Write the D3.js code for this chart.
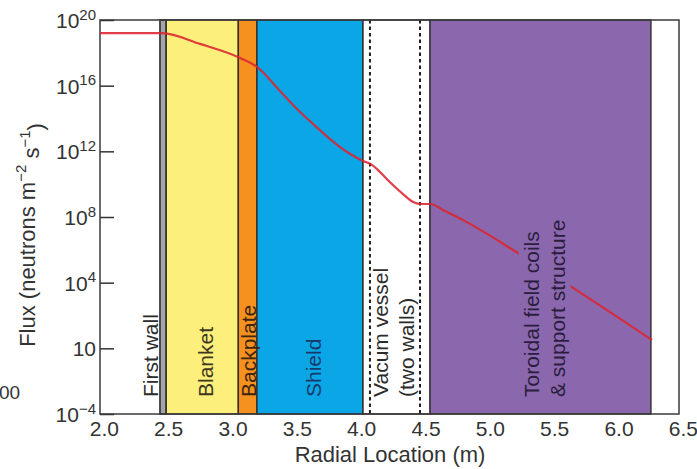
<!DOCTYPE html>
<html>
<head>
<meta charset="utf-8">
<script src="https://cdn.jsdelivr.net/npm/d3@7"></script>
<style>
  body { margin: 0; background: #fff; }
  svg { display: block; font-family: "Liberation Sans", Arial, Helvetica, sans-serif; }
</style>
</head>
<body>
<div class="canvas-container"></div>
<script>

// radial location (m) and neutron flux
var radius = [1.97, 2.452, 2.747, 3.058, 3.19, 3.369, 3.501, 3.625, 3.758, 3.89,
              4.014, 4.084, 4.131, 4.224, 4.325, 4.403, 4.473, 4.535, 4.651, 4.846,
              5.18, 5.646, 6.26];
var flux = [1.6e19, 1.6e19, 3.5e18, 4.9e17, 1.4e17, 4.8e15, 3.8e14, 4.7e13, 5.6e12, 9.1e11,
            2.6e11, 1.5e11, 7.2e10, 1.3e10, 2.5e9, 8.3e8, 6.2e8, 6.2e8, 2.3e8, 3.8e7,
            9.8e5, 4.8e3, 3.2];

// reactor build layers (m)
var layers = [
    {name: "blanket",   x0: 2.483, x1: 3.045},
    {name: "backplate", x0: 3.045, x1: 3.19},
    {name: "shield",    x0: 3.19,  x1: 4.014},
    {name: "vessel",    x0: 4.014, x1: 4.535},
    {name: "coils",     x0: 4.535, x1: 6.252}
];
var firstWall = [2.436, 2.483];
var vesselWalls = [4.068, 4.457];

var xTicks = [2.0, 2.5, 3.0, 3.5, 4.0, 4.5, 5.0, 5.5, 6.0, 6.5];
var yTicks = [1e20, 1e16, 1e12, 1e8, 1e4, 1, 1e-4];
var yTickSup = ["20", "16", "12", "8", "4", "", "\u22124"];

// rotated labels: x in metres, one or two lines
var labels = [
    {key: "wall",      x: [2.359], lines: ["First wall"]},
    {key: "blanket",   x: [2.786], lines: ["Blanket"]},
    {key: "backplate", x: [3.12],  lines: ["Backplate"]},
    {key: "shield",    x: [3.625], lines: ["Shield"]},
    {key: "vessel",    x: [4.146, 4.348], lines: ["Vacum vessel", "(two walls)"]},
    {key: "coils",     x: [5.327, 5.522], lines: ["Toroidal field coils", "& support structure"]}
];

var fills = {
    blanket: "#fcef7c",
    backplate: "#f6901e",
    shield: "#0aa6e6",
    vessel: "#ffffff",
    coils: "#8b67ad"
};
var labelColors = {
    wall: "#2b2b2b", blanket: "#3c3820", backplate: "#3a2612",
    shield: "#173a6c", vessel: "#2b2b2b", coils: "#2a1d3d"
};

function drawChart () {

    var width = 697, height = 469;
    var pLeft = 100, pRight = 679, pTop = 20, pBottom = 414;

    var svg = d3.select("div.canvas-container")
        .append("svg")
        .attr("width", width)
        .attr("height", height);

    var x = d3.scaleLinear().domain([1.97, 6.47]).range([pLeft, pRight]);
    var y = d3.scaleLog().domain([1e-4, 1e20]).range([pBottom, pTop]);

    svg.append("clipPath").attr("id", "plot")
        .append("rect")
        .attr("x", pLeft).attr("y", pTop)
        .attr("width", pRight - pLeft).attr("height", pBottom - pTop);

    // layers
    svg.append("g")
        .selectAll("rect")
        .data(layers)
        .enter()
        .append("rect")
        .attr("x", function (d) { return x(d.x0); })
        .attr("y", pTop)
        .attr("width", function (d) { return x(d.x1) - x(d.x0); })
        .attr("height", pBottom - pTop)
        .attr("fill", function (d) { return fills[d.name]; })
        .attr("stroke", "#2e2e2e")
        .attr("stroke-width", 1.4);

    svg.append("rect")
        .attr("x", x(firstWall[0]))
        .attr("y", pTop)
        .attr("width", x(firstWall[1]) - x(firstWall[0]))
        .attr("height", pBottom - pTop)
        .attr("fill", "#a3a3a8")
        .attr("stroke", "#2e2e2e")
        .attr("stroke-width", 1.6);

    svg.append("g")
        .selectAll("line")
        .data(vesselWalls)
        .enter()
        .append("line")
        .attr("x1", function (d) { return x(d); })
        .attr("x2", function (d) { return x(d); })
        .attr("y1", pTop)
        .attr("y2", pBottom)
        .attr("stroke", "#1e1e1e")
        .attr("stroke-width", 2)
        .attr("stroke-dasharray", "3.5,3");

    // frame
    svg.append("rect")
        .attr("x", pLeft).attr("y", pTop)
        .attr("width", pRight - pLeft).attr("height", pBottom - pTop)
        .attr("fill", "none")
        .attr("stroke", "#3a3a3a")
        .attr("stroke-width", 1.5);

    // flux curve
    var line = d3.line()
        .x(function (d, i) { return x(radius[i]); })
        .y(function (d) { return y(d); })
        .curve(d3.curveMonotoneX);

    svg.append("path")
        .datum(flux)
        .attr("clip-path", "url(#plot)")
        .attr("d", line)
        .attr("fill", "none")
        .attr("stroke", "#dc2430")
        .attr("stroke-opacity", 0.88)
        .attr("stroke-width", 2.2);

    // y axis, ticks pointing in
    var yAxis = svg.append("g")
        .attr("transform", "translate(" + pLeft + ",0)")
        .call(d3.axisLeft(y).tickValues(yTicks).tickSize(-14).tickPadding(4).tickFormat(""));
    yAxis.select(".domain").remove();
    yAxis.selectAll(".tick line").attr("stroke", "#333").attr("stroke-width", 1.5);
    yAxis.selectAll(".tick text").each(function (d, i) {
        var t = d3.select(this)
            .attr("fill", "#333")
            .attr("font-size", 21)
            .attr("dy", "0.36em");
        t.append("tspan").text("10");
        if (yTickSup[i] !== "") {
            t.append("tspan")
                .attr("font-size", 15)
                .attr("dy", "-0.55em")
                .text(yTickSup[i]);
        }
    });

    // x axis
    var xAxis = svg.append("g")
        .attr("transform", "translate(0," + pBottom + ")")
        .call(d3.axisBottom(x).tickValues(xTicks).tickSize(0).tickPadding(7).tickFormat(d3.format(".1f")));
    xAxis.select(".domain").remove();
    xAxis.selectAll(".tick text").attr("fill", "#333").attr("font-size", 21);

    // axis titles
    svg.append("text")
        .attr("x", 390)
        .attr("y", 462)
        .attr("text-anchor", "middle")
        .attr("font-size", 22)
        .attr("fill", "#333")
        .text("Radial Location (m)");

    var ytitle = svg.append("text")
        .attr("transform", "translate(35,235) rotate(-90)")
        .attr("text-anchor", "middle")
        .attr("font-size", 22)
        .attr("fill", "#333");
    ytitle.append("tspan").text("Flux (neutrons m");
    ytitle.append("tspan").attr("font-size", 15).attr("dy", "-0.6em").text("\u22122");
    ytitle.append("tspan").attr("dy", "0.6em").text(" s");
    ytitle.append("tspan").attr("font-size", 15).attr("dy", "-0.6em").text("\u22121");
    ytitle.append("tspan").attr("dy", "0.6em").text(")");

    // leftover fragment at the page edge
    svg.append("text")
        .attr("x", -1)
        .attr("y", 399)
        .attr("font-size", 19)
        .attr("fill", "#333")
        .text("00");

    // layer labels
    labels.forEach(function (lab) {
        var g = svg.append("g");
        lab.lines.forEach(function (str, i) {
            g.append("text")
                .attr("transform", "translate(" + x(lab.x[i]) + "," + (pBottom - 17) + ") rotate(-90)")
                .attr("dy", "0.36em")
                .attr("font-size", 21)
                .attr("fill", labelColors[lab.key])
                .text(str);
        });
        if (lab.key === "coils") {
            var bb = g.node().getBBox();
            g.insert("rect", "text")
                .attr("x", bb.x - 2)
                .attr("y", bb.y)
                .attr("width", bb.width + 4)
                .attr("height", bb.height)
                .attr("fill", fills.coils);
        }
    });
}

drawChart();

</script>
</body>
</html>
